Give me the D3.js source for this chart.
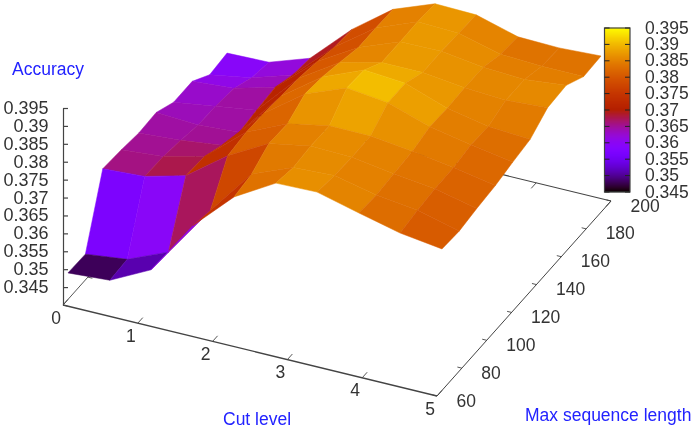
<!DOCTYPE html>
<html>
<head>
<meta charset="utf-8">
<script src="https://cdn.jsdelivr.net/npm/d3@7"></script>
<style>
    html, body { margin: 0; padding: 0; background: #fff; }
    svg { filter: blur(0.4px); }
    text { font-family: "Liberation Sans", sans-serif; font-size: 17.5px; fill: #333; }
    .title { fill: #2222ff; }
</style>
</head>
<body>
<div id="chart"></div>
<script>
// gridded surface: one list per cut level, one value per max sequence length
var cutLevels = [0, 0.56, 1.11, 1.67, 2.22, 2.78, 3.33, 3.89, 4.44, 5];
var seqLengths = [64, 78, 92, 107, 121, 135, 149, 164, 178, 192];

var cut0 = [.3474, .3472, .3656, .3651, .3643, .3646, .3620, .3620, .3584, .3590];
var cut1 = [.3482, .3486, .3663, .3660, .3651, .3639, .3637, .3629, .3604, .3593];
var cut2 = [.3539, .3534, .3693, .3688, .3665, .3647, .3654, .3660, .3640, .3632];
var cut3 = [.3691, .3679, .3777, .3785, .3783, .3777, .3772, .3760, .3746, .3741];
var cut4 = [.3799, .3808, .3839, .3836, .3865, .3858, .3844, .3827, .3827, .3825];
var cut5 = [.3866, .3855, .3861, .3859, .3910, .3906, .3872, .3872, .3873, .3869];
var cut6 = [.3869, .3861, .3857, .3858, .3897, .3897, .3872, .3873, .3869, .3866];
var cut7 = [.3839, .3835, .3840, .3844, .3858, .3855, .3858, .3857, .3839, .3833];
var cut8 = [.3811, .3820, .3826, .3827, .3836, .3832, .3851, .3851, .3833, .3830];
var cut9 = [.3795, .3791, .3799, .3805, .3816, .3825, .3859, .3863, .3833, .3836];
var accuracy = [cut0, cut1, cut2, cut3, cut4, cut5, cut6, cut7, cut8, cut9];

var cutTicks = [0, 1, 2, 3, 4, 5];
var lengthTicks = [60, 80, 100, 120, 140, 160, 180, 200];
var accuracyTicks = [0.345, 0.35, 0.355, 0.36, 0.365, 0.37, 0.375, 0.38, 0.385, 0.39, 0.395];
var tickFormat = function (d) { return String(+d.toFixed(3)); };

var svg = d3.select("#chart").append("svg")
    .attr("width", 695)
    .attr("height", 432)
    .style("display", "block");

// oblique view: every data axis moves a point in both screen directions
var cutToX = d3.scaleLinear().domain([0, 5]).range([0, 374]);
var cutToY = d3.scaleLinear().domain([0, 5]).range([0, 91]);
var lenToX = d3.scaleLinear().domain([60, 200]).range([0, 174]);
var lenToY = d3.scaleLinear().domain([60, 200]).range([0, -195]);
var accToY = d3.scaleLinear().domain([0.34, 0.395]).range([0, -197]);
var originX = 63, originY = 305;

function project(cut, len, acc) {
    return [originX + cutToX(cut) + lenToX(len),
        originY + cutToY(cut) + lenToY(len) + accToY(acc)];
}

// gnuplot default pm3d palette (rgbformulae 7,5,15)
var cbScale = d3.scaleLinear().domain([0.345, 0.395]).range([0, 1]).clamp(true);
function palette(acc) {
    var g = cbScale(acc);
    var b = Math.max(0, Math.sin(2 * Math.PI * g));
    return d3.rgb(255 * Math.sqrt(g), 255 * g * g * g, 255 * b).formatHex();
}

var axisColor = "#444";
var axes = svg.append("g").attr("fill", "none").attr("stroke", axisColor);

function drawSegment(a, b, w) {
    axes.append("line")
        .attr("x1", a[0]).attr("y1", a[1])
        .attr("x2", b[0]).attr("y2", b[1])
        .attr("stroke-width", w);
}

var cMin = 0, cMax = 5, lMin = 60, lMax = 200, aBase = 0.34;

drawSegment(project(cMin, lMin, aBase), project(cMax, lMin, aBase), 1.3);
drawSegment(project(cMax, lMin, aBase), project(cMax, lMax, aBase), 1);
drawSegment(project(cMax, lMax, aBase), project(cMin, lMax, aBase), 1.1);
drawSegment(project(cMin, lMax, aBase), project(cMin, lMin, aBase), 0.9);

// ticks on the base frame, front and back
cutTicks.forEach(function (c) {
    drawSegment(project(c, lMin, aBase), project(c, lMin + 4, aBase), 0.9);
    drawSegment(project(c, lMax, aBase), project(c, lMax - 4, aBase), 0.9);
    var p = project(c, lMin, aBase);
    svg.append("text")
        .attr("x", p[0] - 7)
        .attr("y", p[1] + 18.5)
        .attr("text-anchor", "middle")
        .text(c);
});

lengthTicks.forEach(function (l) {
    drawSegment(project(cMax, l, aBase), project(cMax - 0.06, l, aBase), 0.9);
    drawSegment(project(cMin, l, aBase), project(cMin + 0.06, l, aBase), 0.9);
    var p = project(cMax, l, aBase);
    svg.append("text")
        .attr("x", p[0] + 19.5)
        .attr("y", p[1] + 10.5)
        .text(l);
});

// accuracy axis on the left
var zAxisX = originX;
var zAxisScale = d3.scaleLinear().domain([0.34, 0.395])
    .range([originY, originY + accToY(0.395)]);
var zAxis = svg.append("g")
    .attr("transform", "translate(" + zAxisX + ",0)")
    .call(d3.axisRight(zAxisScale).tickValues(accuracyTicks).tickSize(5).tickSizeOuter(0).tickFormat(""));
zAxis.selectAll("path, line").attr("stroke", axisColor).attr("stroke-width", 1.2);

accuracyTicks.forEach(function (a) {
    svg.append("text")
        .attr("x", 48.5)
        .attr("y", zAxisScale(a) + 6)
        .attr("text-anchor", "end")
        .style("font-size", "18px")
        .text(tickFormat(a));
});

// surface quads, painted back to front
var cells = [];
cutLevels.slice(1).forEach(function (c, i) {
    seqLengths.slice(1).forEach(function (l, j) {
        cells.push({i: i, j: j});
    });
});
cells.sort(function (a, b) {
    return (a.i * 10 - a.j * 20) - (b.i * 10 - b.j * 20);
});

var line = d3.line();
svg.append("g").selectAll("path")
    .data(cells)
    .enter().append("path")
    .attr("d", function (d) {
        var i = d.i, j = d.j;
        return line([
            project(cutLevels[i], seqLengths[j], accuracy[i][j]),
            project(cutLevels[i + 1], seqLengths[j], accuracy[i + 1][j]),
            project(cutLevels[i + 1], seqLengths[j + 1], accuracy[i + 1][j + 1]),
            project(cutLevels[i], seqLengths[j + 1], accuracy[i][j + 1])
        ]) + "Z";
    })
    .each(function (d) {
        var i = d.i, j = d.j;
        var mean = d3.mean([accuracy[i][j], accuracy[i + 1][j], accuracy[i + 1][j + 1], accuracy[i][j + 1]]);
        d3.select(this).attr("fill", palette(mean)).attr("stroke", palette(mean)).attr("stroke-width", 0.5);
    });

// colour box
var cbY = d3.scaleLinear().domain([0.345, 0.395]).range([192, 28]);
var cbLeft = 604.5, cbRight = 630;
var steps = d3.range(0, 164).map(function (k) { return 0.345 + 0.05 * k / 164; });
svg.append("g").selectAll("rect")
    .data(steps)
    .enter().append("rect")
    .attr("x", cbLeft)
    .attr("width", cbRight - cbLeft)
    .attr("y", function (d) { return cbY(d) - 1.2; })
    .attr("height", 1.4)
    .attr("fill", palette);
svg.append("rect")
    .attr("x", cbLeft).attr("y", cbY(0.395))
    .attr("width", cbRight - cbLeft).attr("height", cbY(0.345) - cbY(0.395))
    .attr("fill", "none").attr("stroke", axisColor).attr("stroke-width", 1.2);
accuracyTicks.forEach(function (a) {
    [[cbLeft, cbLeft + 5], [cbRight - 5, cbRight]].forEach(function (seg) {
        svg.append("line")
            .attr("x1", seg[0]).attr("x2", seg[1])
            .attr("y1", cbY(a)).attr("y2", cbY(a))
            .attr("stroke", "#222").attr("stroke-width", 1);
    });
    svg.append("text")
        .attr("x", 645)
        .attr("y", cbY(a) + 5.5)
        .text(tickFormat(a));
});

svg.append("text").attr("class", "title").attr("x", 12).attr("y", 74.5).text("Accuracy");
svg.append("text").attr("class", "title").attr("x", 223).attr("y", 425).text("Cut level");
svg.append("text").attr("class", "title").attr("x", 525).attr("y", 421).text("Max sequence length");
</script>
</body>
</html>
